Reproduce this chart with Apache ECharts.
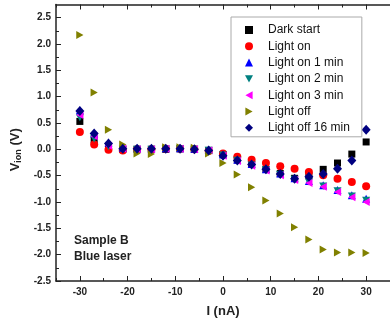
<!DOCTYPE html>
<html>
<head>
<meta charset="utf-8">
<script src="https://cdn.jsdelivr.net/npm/echarts@6/dist/echarts.min.js"></script>
<style>
  html, body { margin: 0; padding: 0; background: #fff; }
  #chart { width: 390px; height: 324px; }
</style>
</head>
<body>
<div id="chart"></div>
<script>
// bias current (nA) on x, voltage (V) on y
const currents = [-30, -27, -24, -21, -18, -15, -12, -9, -6, -3, 0, 3, 6, 9, 12, 15, 18, 21, 24, 27, 30];

const darkStart   = [0.53, 0.18, 0.05, 0.00, 0.00, 0.00, 0.00, 0.01, 0.00, -0.02, -0.10, -0.20, -0.28, -0.38, -0.46, -0.55, -0.50, -0.38, -0.26, -0.09, 0.14];
const lightOn     = [0.33, 0.09, -0.01, -0.02, 0.00, 0.00, 0.01, 0.01, 0.00, -0.03, -0.08, -0.14, -0.20, -0.26, -0.32, -0.37, -0.43, -0.49, -0.56, -0.62, -0.70];
const lightOn1    = [0.74, 0.30, 0.13, 0.03, 0.02, 0.02, 0.02, 0.02, 0.01, -0.01, -0.10, -0.20, -0.28, -0.38, -0.46, -0.55, -0.60, -0.68, -0.77, -0.87, -0.94];
const lightOn2    = [0.60, 0.20, 0.05, 0.00, 0.00, 0.00, 0.01, 0.01, 0.00, -0.02, -0.11, -0.21, -0.30, -0.39, -0.48, -0.57, -0.62, -0.70, -0.79, -0.89, -0.97];
const lightOn3    = [0.65, 0.25, 0.07, 0.01, 0.00, 0.00, 0.01, 0.01, 0.00, -0.02, -0.12, -0.22, -0.31, -0.40, -0.49, -0.58, -0.64, -0.71, -0.81, -0.91, -1.00];
const lightOff    = [2.17, 1.08, 0.37, 0.09, -0.08, -0.09, 0.04, 0.04, 0.03, -0.08, -0.26, -0.48, -0.72, -0.97, -1.22, -1.48, -1.71, -1.90, -1.96, -1.96, -1.97];
const lightOff16  = [0.73, 0.30, 0.11, 0.01, 0.01, 0.01, 0.01, 0.01, 0.00, -0.02, -0.12, -0.21, -0.29, -0.38, -0.47, -0.56, -0.52, -0.47, -0.37, -0.21, 0.37];

const xMajorTicks = [-30, -20, -10, 0, 10, 20, 30];
const xMinorTicks = [-35, -25, -15, -5, 5, 15, 25, 35];
const yMajorTicks = [-2.5, -2.0, -1.5, -1.0, -0.5, 0.0, 0.5, 1.0, 1.5, 2.0, 2.5];
const yMinorTicks = [-2.25, -1.75, -1.25, -0.75, -0.25, 0.25, 0.75, 1.25, 1.75, 2.25];

const pairs = (ys) => currents.map((x, i) => [x, ys[i]]);

// triangle markers pointing down / left / right
const triDown = 'path://M0,0 L10,0 L5,9 Z';
const triLeft = 'path://M9,0 L9,10 L0,5 Z';
const triRight = 'path://M0,0 L9,5 L0,10 Z';

const chart = echarts.init(document.getElementById('chart'));

const axisColor = '#222';
const fontFamily = 'Liberation Sans, Arial, sans-serif';
const labelFont = { color: '#222', fontSize: 10, fontWeight: 'bold', fontFamily: fontFamily };

function xAxisDef(position, ticks, len, main) {
  return {
    type: 'value', position: position, min: -35, max: 35, interval: 5,
    axisLine: { show: main, onZero: false, lineStyle: { color: axisColor, width: 1.5 } },
    axisTick: { show: true, inside: true, length: len, customValues: ticks, lineStyle: { color: axisColor, width: 1 } },
    axisLabel: main && position === 'bottom'
      ? Object.assign({ show: true, customValues: xMajorTicks, margin: 6, formatter: (v) => String(v) }, labelFont)
      : { show: false },
    splitLine: { show: false },
    name: main && position === 'bottom' ? 'I (nA)' : '',
    nameLocation: 'middle', nameGap: 24,
    nameTextStyle: { color: '#222', fontSize: 13, fontWeight: 'bold', fontFamily: fontFamily }
  };
}

function yAxisDef(ticks, len, main) {
  return {
    type: 'value', position: 'left', min: -2.5, max: 2.75, interval: 0.5,
    axisLine: { show: main, onZero: false, lineStyle: { color: axisColor, width: 1.5 } },
    axisTick: { show: true, inside: true, length: len, customValues: ticks, lineStyle: { color: axisColor, width: 1 } },
    axisLabel: main
      ? Object.assign({ show: true, customValues: yMajorTicks, margin: 5, formatter: (v) => v.toFixed(1) }, labelFont)
      : { show: false },
    splitLine: { show: false },
    name: main ? '{v|V}{s|ion}{v| (V)}' : '',
    nameLocation: 'middle', nameGap: 24, nameRotate: 90,
    nameTextStyle: {
      padding: [0, 14, 0, 0],
      rich: {
        v: { color: '#222', fontSize: 13, fontWeight: 'bold', fontFamily: fontFamily },
        s: { color: '#222', fontSize: 9, fontWeight: 'bold', fontFamily: fontFamily, padding: [6, 0, 0, 0] }
      }
    }
  };
}

function scatter(name, ys, color, symbol, size) {
  return {
    name: name, type: 'scatter', data: pairs(ys),
    symbol: symbol, symbolSize: size, symbolKeepAspect: true,
    itemStyle: { color: color, opacity: 1 },
    emphasis: { disabled: true }
  };
}

chart.setOption({
  animation: false,
  backgroundColor: '#fff',
  grid: { left: 56, top: 4.5, width: 343, height: 276.5, containLabel: false },
  xAxis: [
    xAxisDef('bottom', xMajorTicks, 5, true),
    xAxisDef('bottom', xMinorTicks, 3, false),
    xAxisDef('top', xMajorTicks, 5, true),
    xAxisDef('top', xMinorTicks, 3, false)
  ],
  yAxis: [
    yAxisDef(yMajorTicks, 5, true),
    yAxisDef(yMinorTicks, 3, false)
  ],
  legend: {
    orient: 'vertical', left: 231, top: 17,
    padding: [7, 12, 3, 14],
    itemWidth: 8, itemHeight: 8, itemGap: 4.3,
    backgroundColor: '#fff', borderColor: '#aaa', borderWidth: 1,
    textStyle: { color: '#111', fontSize: 12, fontFamily: fontFamily, lineHeight: 12, padding: [0, 0, 0, 10] },
    data: ['Dark start', 'Light on', 'Light on 1 min', 'Light on 2 min', 'Light on 3 min', 'Light off', 'Light off 16 min']
  },
  graphic: [
    { type: 'text', left: 74, top: 235, style: { text: 'Sample B', fill: '#222', font: 'bold 12px ' + fontFamily } },
    { type: 'text', left: 74, top: 251, style: { text: 'Blue laser', fill: '#222', font: 'bold 12px ' + fontFamily } }
  ],
  series: [
    scatter('Dark start', darkStart, '#000000', 'rect', 7),
    scatter('Light on', lightOn, '#ff0000', 'circle', 8),
    scatter('Light on 1 min', lightOn1, '#0000ff', 'triangle', 8),
    scatter('Light on 2 min', lightOn2, '#008080', triDown, 8),
    scatter('Light on 3 min', lightOn3, '#ff00ff', triLeft, 8),
    scatter('Light off', lightOff, '#808000', triRight, 8),
    scatter('Light off 16 min', lightOff16, '#000080', 'diamond', [9, 10])
  ]
});
</script>
</body>
</html>
